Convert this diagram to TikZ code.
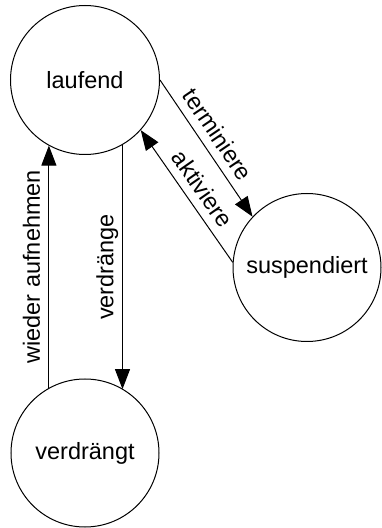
\documentclass[tikz,border=0pt]{standalone}
\usepackage{fontspec}
\setmainfont{Liberation Sans}
\usetikzlibrary{arrows.meta}
\begin{document}
\begin{tikzpicture}[x=1pt,y=1pt,
  font=\fontsize{23.5}{28}\selectfont,
  state/.style={draw,circle,line width=1pt,minimum size=149pt,inner sep=0pt},
  trans/.style={line width=1pt,-{Triangle[length=20pt,width=15pt]}},
  lbl/.style={text depth=0pt,inner sep=0pt,outer sep=9pt}]
\useasboundingbox (0,0) rectangle (381,528);
\node[state] (lauf) at (85,448) {laufend};
\node[state,minimum size=148pt] (susp) at (307,260.5) {suspendiert};
\node[state,minimum size=148pt] (verd) at (85,75) {verdrängt};
\draw[trans] (lauf.0) -- node[lbl,sloped,above,pos=0.47] {terminiere} (susp.137);
\draw[trans] (susp.176) -- node[lbl,sloped,above,pos=0.48] {aktiviere} (lauf.-42);
\draw[trans] (verd.119) -- node[lbl,rotate=90,anchor=south] {wieder aufnehmen} (verd.119 |- lauf.-119);
\draw[trans] (lauf.-60) -- node[lbl,rotate=90,anchor=south] {verdränge} (lauf.-60 |- verd.59);
\end{tikzpicture}
\end{document}
